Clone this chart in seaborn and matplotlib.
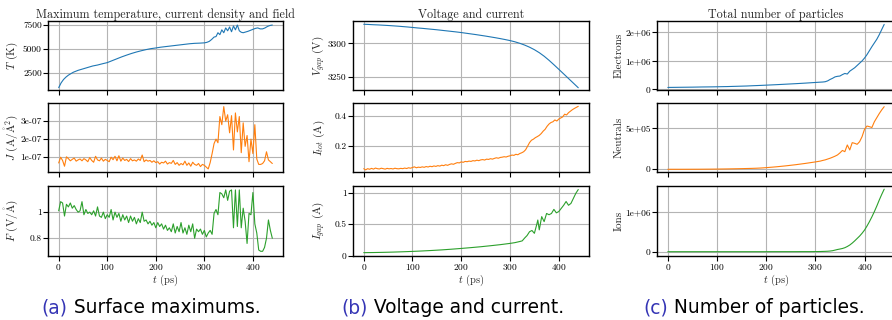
import numpy as np
import pandas as pd
import matplotlib
matplotlib.use("Agg")
import matplotlib.pyplot as plt
from matplotlib.ticker import FixedLocator, FuncFormatter
import seaborn as sns

# ---------------- data ----------------
t4 = np.arange(0, 441, 4)  # ps, sampling for the noisy series

J_1e7 = [0.68, 1.0, 0.82, 0.5, 1.02, 0.92, 0.8, 0.88, 0.95, 0.78,
         0.85, 0.9, 0.8, 0.92, 0.85, 0.75, 0.98, 0.82, 0.72, 1.05,
         0.85, 0.8, 0.95, 0.78, 0.88, 0.82, 0.75, 1.0, 0.86, 1.05,
         0.8, 1.08, 0.78, 0.95, 0.82, 0.88, 0.76, 0.92, 0.8, 0.85,
         0.78, 0.9, 0.82, 1.12, 0.75, 0.85, 0.78, 0.82, 0.72, 0.8,
         0.7, 0.75, 0.62, 0.72, 0.68, 0.78, 0.62, 0.7, 0.66, 0.82,
         0.6, 0.7, 0.55, 0.65, 0.58, 0.78, 0.55, 0.68, 0.5, 0.72,
         0.6, 0.55, 0.65, 0.48, 0.6, 0.55, 0.45, 0.35, 0.7, 1.2,
         1.75, 2.0, 1.8, 3.25, 2.8, 3.8, 3.0, 3.35, 2.35, 3.3,
         1.4, 3.45, 2.4, 3.25, 1.25, 2.9, 1.6, 2.2, 0.75, 2.0,
         1.2, 2.8, 0.9, 0.6, 0.6, 0.65, 0.8, 1.3, 0.85, 0.75,
         0.65]

F_field = [1.01, 1.08, 1.07, 0.97, 1.06, 1.04, 1.07, 1.03, 1.05, 1.02,
           1.0, 1.01, 1.08, 0.98, 1.02, 0.99, 1.0, 0.98, 1.01, 0.97,
           1.04, 0.97, 0.96, 1.0, 0.95, 0.98, 0.96, 1.02, 0.94, 1.0,
           0.96, 0.99, 0.93, 0.98, 0.94, 0.97, 0.92, 0.97, 0.93, 0.96,
           0.91, 0.95, 0.92, 1.0, 0.93, 0.94, 0.91, 0.93, 0.9, 0.92,
           0.88, 0.92, 0.89, 0.91, 0.87, 0.9, 0.86, 0.88, 0.85, 0.91,
           0.84, 0.89, 0.85, 0.92, 0.84, 0.88, 0.83, 0.9, 0.85, 0.91,
           0.8, 0.87, 0.85, 0.87, 0.83, 0.86, 0.81, 0.84, 0.86, 0.83,
           0.99, 1.02, 0.98, 1.15, 1.14, 1.11, 1.17, 1.09, 1.16, 1.17,
           0.88, 1.17, 0.89, 1.17, 0.88, 1.03, 0.93, 0.76, 0.99, 0.98,
           1.15, 0.91, 0.84, 0.71, 0.70, 0.70, 0.73, 0.8, 0.94, 0.86,
           0.8]

I_tot = [0.05, 0.042, 0.05, 0.046, 0.052, 0.047, 0.054, 0.05, 0.048, 0.053,
         0.05, 0.047, 0.052, 0.049, 0.051, 0.048, 0.053, 0.05, 0.049, 0.052,
         0.05, 0.054, 0.051, 0.056, 0.053, 0.058, 0.062, 0.056, 0.06, 0.058,
         0.062, 0.059, 0.064, 0.061, 0.066, 0.063, 0.068, 0.065, 0.07, 0.067,
         0.073, 0.07, 0.076, 0.072, 0.078, 0.082, 0.079, 0.085, 0.09, 0.088,
         0.095, 0.092, 0.098, 0.096, 0.1, 0.098, 0.103, 0.101, 0.106, 0.103,
         0.108, 0.11, 0.107, 0.113, 0.111, 0.116, 0.113, 0.118, 0.122, 0.119,
         0.124, 0.126, 0.129, 0.127, 0.132, 0.135, 0.14, 0.138, 0.145, 0.142,
         0.15, 0.155, 0.162, 0.175, 0.198, 0.222, 0.238, 0.245, 0.255, 0.262,
         0.27, 0.282, 0.298, 0.31, 0.33, 0.345, 0.355, 0.36, 0.372, 0.365,
         0.378, 0.385, 0.392, 0.41, 0.405, 0.42, 0.43, 0.44, 0.448, 0.455,
         0.462]

t_T = [0, 5, 10, 15, 20, 30, 40, 50, 60, 70, 80, 90, 100, 110, 120, 130,
       140, 150, 160, 170, 180, 190, 200, 210, 220, 230, 240, 250, 260,
       270, 280, 290, 300, 305, 310, 315, 320, 324, 328, 332, 336, 340,
       344, 348, 352, 356, 360, 364, 368, 372, 376, 380, 390, 400, 405,
       410, 415, 420, 425, 430, 435, 440]
T_max = [1000, 1500, 1850, 2100, 2300, 2600, 2800, 2950, 3100, 3250, 3350,
         3480, 3600, 3800, 4000, 4200, 4380, 4550, 4700, 4830, 4950, 5050,
         5120, 5200, 5260, 5320, 5380, 5440, 5500, 5560, 5600, 5620, 5650,
         5700, 5800, 6000, 6250, 6300, 6700, 6500, 7000, 6700, 7200, 6900,
         7300, 6800, 7400, 7000, 7500, 6900, 6750, 6700, 6850, 7050, 7150,
         7200, 7100, 7100, 7200, 7350, 7450, 7500]

t10 = np.arange(0, 441, 10)
V_gap = [3328, 3327.7, 3327.3, 3327, 3326.6, 3326.2, 3325.7, 3325.2, 3324.6,
         3324, 3323.3, 3322.6, 3322, 3321.3, 3320.6, 3319.9, 3319.1, 3318.3,
         3317.5, 3316.7, 3315.8, 3314.8, 3313.8, 3312.8, 3311.7, 3310.6,
         3309.4, 3308.2, 3306.9, 3305.5, 3304, 3302.2, 3300, 3297.4, 3294.3,
         3290.6, 3286.2, 3281, 3275, 3268.5, 3261.8, 3255, 3248.2, 3241.4,
         3234.6]

t_gap = [0, 20, 40, 60, 80, 100, 120, 140, 160, 180, 200, 220, 240, 260,
         280, 300, 310, 320, 325, 330, 335, 340, 345, 350, 355, 357, 360,
         365, 370, 375, 380, 385, 390, 395, 400, 405, 410, 415, 420, 425,
         430, 435, 440]
I_gap = [0.048, 0.05, 0.053, 0.057, 0.062, 0.068, 0.075, 0.083, 0.092,
         0.103, 0.115, 0.128, 0.142, 0.158, 0.175, 0.195,
         0.207, 0.225, 0.235, 0.28, 0.32, 0.38, 0.4, 0.355, 0.5, 0.566, 0.41,
         0.62, 0.54, 0.67, 0.65, 0.67, 0.735, 0.68, 0.7, 0.75, 0.8, 0.86,
         0.8, 0.83, 0.91, 0.99, 1.05]

t_part = [0, 10, 20, 30, 40, 50, 60, 70, 80, 90, 100, 110, 120, 130, 140,
          150, 160, 170, 180, 190, 200, 210, 220, 230, 240, 250, 260, 270,
          280, 290, 300, 305, 310, 315, 320, 325, 330, 335, 340, 345, 350,
          355, 360, 365, 370, 375, 380, 385, 390, 395, 400, 405, 410, 415,
          420, 425, 430, 435, 440]
electrons_1e6 = [0.07, 0.072, 0.074, 0.076, 0.078, 0.08, 0.083, 0.086, 0.088,
                 0.09, 0.093, 0.097, 0.1, 0.105, 0.11, 0.115, 0.12, 0.128,
                 0.135, 0.142, 0.15, 0.158, 0.166, 0.175, 0.184, 0.193,
                 0.202, 0.212, 0.222, 0.233, 0.244,
                 0.25, 0.255, 0.26, 0.27, 0.3, 0.35, 0.39, 0.44, 0.46, 0.47,
                 0.52, 0.56, 0.54, 0.64, 0.7, 0.76, 0.84, 0.92, 1.0, 1.1,
                 1.22, 1.36, 1.5, 1.63, 1.76, 1.92, 2.1, 2.28]
neutrals_1e5 = [0, 0, 0, 0, 0.002, 0.004, 0.006, 0.01, 0.015, 0.02, 0.027,
                0.035, 0.044, 0.055, 0.067, 0.08, 0.095, 0.11, 0.13, 0.16,
                0.2, 0.25, 0.3, 0.36, 0.42, 0.49, 0.56, 0.64, 0.72, 0.81,
                0.9,
                0.95, 1.0, 1.08, 1.15, 1.25, 1.35, 1.47, 1.6, 1.75, 2.0,
                2.3, 2.15, 2.97, 2.36, 3.25, 3.17, 3.05, 3.37, 3.98, 4.88,
                5.28, 5.2, 5.1, 5.8, 6.3, 6.8, 7.25, 7.64]
ions_1e6 = [0, 0, 0, 0, 0, 0, 0, 0, 0, 0, 0, 0, 0, 0, 0, 0, 0, 0, 0, 0, 0,
            0.001, 0.001, 0.001, 0.001, 0.001, 0.001, 0.002, 0.002, 0.002,
            0.003,
            0.004, 0.005, 0.007, 0.009, 0.012, 0.017, 0.025, 0.04, 0.055,
            0.067, 0.08, 0.1, 0.13, 0.167, 0.215, 0.27, 0.33, 0.39, 0.46,
            0.54, 0.64, 0.75, 0.87, 1.0, 1.14, 1.29, 1.43, 1.56]

col_titles = ["Maximum temperature, current density and field",
              "Voltage and current", "Total number of particles"]
captions = [("(a)", " Surface maximums."), ("(b)", " Voltage and current."),
            ("(c)", " Number of particles.")]

# ---------------- style ----------------
sns.set_style("whitegrid", rc={
    "axes.edgecolor": "black", "axes.linewidth": 1.0,
    "grid.color": "#b4b4b4", "grid.linewidth": 1.0,
    "xtick.bottom": True, "ytick.left": True,
    "xtick.color": "black", "ytick.color": "black",
    "xtick.major.size": 2.5, "ytick.major.size": 2.0,
    "xtick.major.width": 0.8, "ytick.major.width": 0.8,
})
plt.rcParams["font.family"] = ["cmr10", "DejaVu Serif"]
plt.rcParams["mathtext.fontset"] = "cm"
plt.rcParams["axes.formatter.use_mathtext"] = True
plt.rcParams["axes.unicode_minus"] = False

W, H = 892, 320
fig = plt.figure(figsize=(W / 100, H / 100), dpi=100)

cols_px = [(48, 283), (353, 589), (657, 895)]
rows_px = [(21, 90), (103, 172), (186, 256)]

blue, orange, green = "#1f77b4", "#ff7f0e", "#2ca02c"

df4 = pd.DataFrame({"t": t4, "J": np.array(J_1e7) * 1e-7, "F": F_field,
                    "Itot": I_tot})
dfT = pd.DataFrame({"t": t_T, "T": T_max})
dfV = pd.DataFrame({"t": t10, "V": V_gap})
dfG = pd.DataFrame({"t": t_gap, "I": I_gap})
dfP = pd.DataFrame({"t": t_part, "e": np.array(electrons_1e6) * 1e6,
                    "n": np.array(neutrals_1e5) * 1e5,
                    "i": np.array(ions_1e6) * 1e6})

AA = r"$\mathring{\mathrm{A}}$"
fmt_g = FuncFormatter(lambda v, p: f"{v:g}")
fmt_e = FuncFormatter(lambda v, p: "0" if v == 0 else f"{v:.0e}")

panels = [
    [(dfT, "T", blue, r"$T$ (K)", [2500, 5000, 7500], (760, 7917), fmt_g),
     (df4, "J", orange, r"$J$ (A/$\mathring{\mathrm{A}}^2$)", [1e-7, 2e-7, 3e-7],
      (0.18e-7, 4.0e-7), fmt_g),
     (df4, "F", green, r"$F$ (V/" + AA + ")", [0.8, 1.0], (0.664, 1.2), fmt_g)],
    [(dfV, "V", blue, r"$V_{gap}$ (V)", [3250, 3300], (3231.3, 3332.8), fmt_g),
     (df4, "Itot", orange, r"$I_{tot}$ (A)", [0.2, 0.4], (0.028, 0.484), fmt_g),
     (dfG, "I", green, r"$I_{gap}$ (A)", [0, 0.5, 1], (-0.005, 1.106), fmt_g)],
    [(dfP, "e", blue, "Electrons", [0, 1e6, 2e6], (-0.02e6, 2.40e6), fmt_e),
     (dfP, "n", orange, "Neutrals", [0, 5e5], (-0.33e5, 8.09e5), fmt_e),
     (dfP, "i", green, "Ions", [0, 1e6], (-0.107e6, 1.64e6), fmt_e)],
]
label_x = [-0.12, -0.11, -0.14]

for c, (x0, x1) in enumerate(cols_px):
    for r, (y0, y1) in enumerate(rows_px):
        ax = fig.add_axes([x0 / W, 1 - y1 / H, (x1 - x0) / W, (y1 - y0) / H])
        df, col, color, ylab, yt, ylim, fmt = panels[c][r]
        sns.lineplot(data=df, x="t", y=col, ax=ax, color=color, linewidth=0.8)
        ax.set_xlim(-22, 462)
        ax.set_ylim(*ylim)
        ax.xaxis.set_major_locator(FixedLocator([0, 100, 200, 300, 400]))
        ax.yaxis.set_major_locator(FixedLocator(yt))
        ax.yaxis.set_major_formatter(fmt)
        ax.tick_params(axis="both", labelsize=6.8, pad=1.0)
        ax.set_ylabel(ylab, fontsize=8)
        ax.yaxis.set_label_coords(label_x[c], 0.5)
        if r < 2:
            ax.set_xlabel("")
            ax.tick_params(axis="x", labelbottom=False)
        else:
            ax.set_xlabel(r"$t$ (ps)", fontsize=7.5, labelpad=0)
        if r == 0:
            ax.set_title(col_titles[c], fontsize=8.7, pad=2.5)
        for s in ax.spines.values():
            s.set_color("black")
            s.set_linewidth(1.0)

# captions (label in blue, text in black), scaled to the reference width
cap_centers = [151, 453, 754]
cap_width = 218
renderer = fig.canvas.get_renderer()
size = 12
for (lab, rest), cx in zip(captions, cap_centers):
    fam = ["DejaVu Sans"]
    t1 = fig.text(0, 0, lab, color="#3535b5", fontsize=12, family=fam,
                  va="baseline")
    t2 = fig.text(0, 0, rest, color="black", fontsize=12, family=fam,
                  va="baseline")
    w = t1.get_window_extent(renderer).width + t2.get_window_extent(renderer).width
    if cx == cap_centers[0]:
        size = 12 * cap_width / w
    t1.set_fontsize(size)
    t2.set_fontsize(size)
    w1 = t1.get_window_extent(renderer).width
    w2 = t2.get_window_extent(renderer).width
    left = cx - (w1 + w2) / 2
    yb = 1 - 313 / H
    t1.set_position((left / W, yb))
    t2.set_position(((left + w1) / W, yb))

fig.savefig("out.png", dpi=100)
